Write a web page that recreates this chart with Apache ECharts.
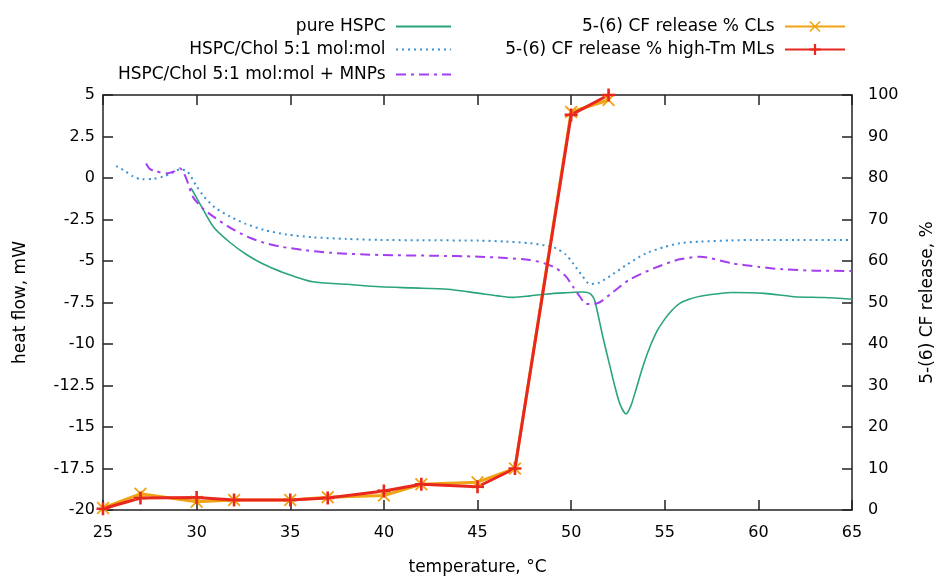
<!DOCTYPE html>
<html>
<head>
<meta charset="utf-8">
<script src="https://cdn.jsdelivr.net/npm/echarts@6/dist/echarts.min.js"></script>
<style>
  html, body { margin: 0; padding: 0; background: #fff; }
  #chart { width: 936px; height: 580px; }
</style>
</head>
<body>
<div id="chart"></div>
<script>
// heat flow curves (temperature, mW)
const hspcT = [29.7, 30.2, 30.9, 31.8, 32.7, 33.5, 34.5, 36.2, 38, 39.8, 41.5, 43.4, 45.1, 46.1, 46.9, 47.8, 48.7, 49.6, 50.5, 50.8, 51.05, 51.25, 51.45, 51.7, 52.0, 52.3, 52.6, 52.93, 53.2, 53.5, 53.85, 54.2, 54.6, 55.0, 55.4, 55.8, 56.3, 56.9, 58.6, 60.3, 61.9, 63.5, 65];
const hspcQ = [-0.6, -1.6, -2.95, -3.9, -4.64, -5.15, -5.64, -6.25, -6.4, -6.55, -6.62, -6.7, -6.95, -7.1, -7.19, -7.1, -6.99, -6.92, -6.87, -6.88, -7.0, -7.35, -8.3, -9.6, -11.0, -12.4, -13.6, -14.22, -13.7, -12.6, -11.3, -10.2, -9.2, -8.5, -7.95, -7.55, -7.3, -7.12, -6.9, -6.95, -7.15, -7.2, -7.3];

const cholT = [25.7, 26.2, 26.6, 27.1, 27.7, 28.2, 28.7, 29.1, 29.5, 30, 30.4, 31, 31.8, 32.6, 33.6, 34.8, 36.2, 38, 39.8, 42, 45.1, 46.5, 47.8, 48.6, 49.2, 49.7, 50.1, 50.6, 51, 51.5, 52.25, 53, 54, 55, 55.8, 56.9, 58.5, 60, 62, 65];
const cholQ = [0.72, 0.4, 0.1, -0.08, -0.05, 0.08, 0.3, 0.52, 0.4, -0.5, -1.13, -1.8, -2.33, -2.75, -3.13, -3.4, -3.57, -3.67, -3.73, -3.75, -3.77, -3.83, -3.93, -4.06, -4.24, -4.6, -5.14, -5.9, -6.39, -6.3, -5.78, -5.2, -4.54, -4.15, -3.93, -3.83, -3.76, -3.73, -3.73, -3.73];

const mnpT = [27.3, 27.5, 27.8, 28.4, 28.8, 29.1, 29.4, 29.8, 30.3, 30.9, 31.8, 32.7, 33.6, 34.5, 35.8, 37.1, 39.8, 42.5, 45.1, 46.5, 47.8, 48.6, 49.2, 49.7, 50.1, 50.5, 50.8, 51.4, 52.2, 53.1, 54.5, 55.8, 56.9, 58.6, 60, 61.3, 63, 65];
const mnpQ = [0.88, 0.55, 0.4, 0.28, 0.4, 0.58, 0.1, -1.13, -1.8, -2.33, -3.0, -3.53, -3.9, -4.14, -4.35, -4.5, -4.64, -4.68, -4.74, -4.82, -4.94, -5.15, -5.44, -5.9, -6.55, -7.2, -7.59, -7.55, -6.9, -6.14, -5.4, -4.9, -4.74, -5.14, -5.35, -5.5, -5.58, -5.6];

// 5-(6) CF release, %
const releaseT = [25, 27, 30, 32, 35, 37, 40, 42, 45, 47, 50, 52];
const releaseCL = [0.5, 3.9, 2.0, 2.4, 2.4, 3.1, 3.5, 6.2, 6.7, 10, 95.9, 98.8];
const releaseML = [0.3, 2.9, 3.0, 2.4, 2.4, 2.9, 4.6, 6.2, 5.6, 10, 95.2, 100];

const names = [
  "pure HSPC",
  "HSPC/Chol 5:1 mol:mol",
  "HSPC/Chol 5:1 mol:mol + MNPs",
  "5-(6) CF release % CLs",
  "5-(6) CF release % high-Tm MLs",
];

const font = "DejaVu Sans";
const xSymbol = "path://M0,1L1,0L5,4L9,0L10,1L6,5L10,9L9,10L5,6L1,10L0,9L4,5Z";
const plusSymbol = "path://M4,0H6V4H10V6H6V10H4V6H0V4H4Z";

function zip(xs, ys) {
  return xs.map((x, i) => [x, ys[i]]);
}

function legendAt(name, right, top, width, hideSymbol) {
  return {
    data: [name],
    right,
    top,
    padding: 0,
    align: "right",
    itemWidth: width,
    itemHeight: 14,
    selectedMode: false,
    formatter: (n) => n + " ",
    itemStyle: hideSymbol ? { opacity: 0 } : {},
    textStyle: { fontFamily: font, fontSize: 17, color: "#000" },
  };
}

const axisLine = { show: true, onZero: false, lineStyle: { color: "#222", width: 1.5 } };
const axisTick = { show: true, inside: true, length: 10, lineStyle: { color: "#222", width: 1.5 } };
const labelStyle = { fontFamily: font, fontSize: 16, color: "#000" };
const nameStyle = { fontFamily: font, fontSize: 17, color: "#000" };

const chart = echarts.init(document.getElementById("chart"));

chart.setOption({
  animation: false,
  backgroundColor: "#fff",
  grid: { left: 103, right: 84, top: 95, bottom: 70, outerBoundsMode: "none" },
  legend: [
    legendAt(names[0], 484, 18, 55, true),
    legendAt(names[1], 484, 41, 55, true),
    legendAt(names[2], 484, 66, 55, true),
    legendAt(names[3], 90, 18, 60, false),
    legendAt(names[4], 90, 41, 60, false),
  ],
  xAxis: [
    {
      type: "value",
      min: 25,
      max: 65,
      interval: 5,
      name: "temperature, °C",
      nameLocation: "middle",
      nameGap: 49,
      nameTextStyle: nameStyle,
      axisLine,
      axisTick,
      axisLabel: { ...labelStyle, margin: 15 },
      splitLine: { show: false },
    },
    {
      type: "value",
      position: "top",
      min: 25,
      max: 65,
      interval: 5,
      axisLine,
      axisTick,
      axisLabel: { show: false },
      splitLine: { show: false },
    },
  ],
  yAxis: [
    {
      type: "value",
      min: -20,
      max: 5,
      interval: 2.5,
      name: "heat flow, mW",
      nameLocation: "middle",
      nameRotate: 90,
      nameGap: 74,
      nameTextStyle: nameStyle,
      axisLine,
      axisTick,
      axisLabel: { ...labelStyle, margin: 8 },
      splitLine: { show: false },
    },
    {
      type: "value",
      position: "right",
      min: 0,
      max: 100,
      interval: 10,
      name: "5-(6) CF release, %",
      nameLocation: "middle",
      nameRotate: 90,
      nameGap: 67,
      nameTextStyle: nameStyle,
      axisLine,
      axisTick,
      axisLabel: { ...labelStyle, margin: 16 },
      splitLine: { show: false },
    },
  ],
  series: [
    {
      name: names[0],
      type: "line",
      smooth: 0.25,
      symbol: "none",
      data: zip(hspcT, hspcQ),
      itemStyle: { color: "#2aa47c" },
      lineStyle: { color: "#2aa47c", width: 1.6 },
    },
    {
      name: names[1],
      type: "line",
      smooth: 0.25,
      symbol: "none",
      data: zip(cholT, cholQ),
      itemStyle: { color: "#3b93d3" },
      lineStyle: { color: "#3b93d3", width: 2, type: [2, 4] },
    },
    {
      name: names[2],
      type: "line",
      smooth: 0.25,
      symbol: "none",
      data: zip(mnpT, mnpQ),
      itemStyle: { color: "#a43ef0" },
      lineStyle: { color: "#a43ef0", width: 2, type: [10, 5, 3, 5] },
    },
    {
      name: names[3],
      type: "line",
      yAxisIndex: 1,
      symbol: xSymbol,
      symbolSize: 13,
      data: zip(releaseT, releaseCL),
      itemStyle: { color: "#f0a313" },
      lineStyle: { color: "#f0a313", width: 3 },
    },
    {
      name: names[4],
      type: "line",
      yAxisIndex: 1,
      symbol: plusSymbol,
      symbolSize: 13,
      data: zip(releaseT, releaseML),
      itemStyle: { color: "#e8281e" },
      lineStyle: { color: "#e8281e", width: 3 },
    },
  ],
});
</script>
</body>
</html>
